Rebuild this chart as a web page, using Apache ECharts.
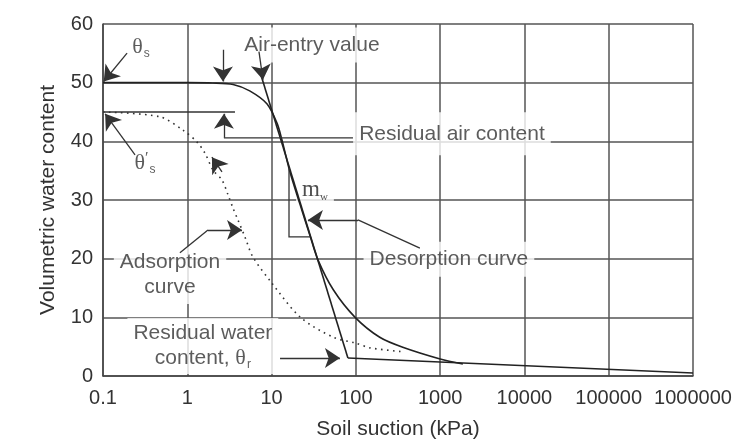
<!DOCTYPE html>
<html>
<head>
<meta charset="utf-8">
<script src="https://cdn.jsdelivr.net/npm/echarts@6/dist/echarts.min.js"></script>
<style>
  html, body { margin: 0; padding: 0; background: #fff; }
  #chart { width: 746px; height: 444px; }
</style>
</head>
<body>
<div id="chart"></div>
<script>
// axis ticks
var xTickLabels = ['0.1', '1', '10', '100', '1000', '10000', '100000', '1000000'];
var yTickLabels = ['0', '10', '20', '30', '40', '50', '60'];

// desorption curve (solid)
var desorptionX = [0.1, 1, 2, 3.5, 5.5, 8.8, 11.6, 13.3, 16.5, 21.7, 28.6, 35.5, 54, 98, 192, 360, 1000, 1860];
var desorptionY = [50, 50, 49.95, 49.7, 48.6, 46.4, 43.1, 40.2, 34.8, 29.3, 23.9, 19.8, 14.7, 10, 6.6, 4.9, 2.9, 2.05];

// adsorption curve (dotted)
var adsorptionX = [0.1, 0.47, 0.89, 1.3, 1.62, 2.02, 2.58, 3.04, 3.49, 3.99, 4.83, 6.0, 10, 22, 54, 100, 147, 380];
var adsorptionY = [45, 44.2, 41.9, 39.9, 38.0, 35.1, 33.4, 30.9, 28.6, 26.6, 23.7, 20.3, 15.9, 10, 6.6, 5.6, 4.8, 4.1];

// slope line m_w and residual line
var tangentX = [7.48, 80.5];
var tangentY = [51.3, 3.07];
var residualX = [80.5, 1000000];
var residualY = [3.07, 0.5];

// annotation texts [x, y, text, vertical padding]
var noteTexts = [
  [0.283, 56.0, '{t|θ}{s|s}', 3],
  [0.315, 36.2, '{t|θ}{p|′}{s|s}', 3],
  [30.1, 56.4, 'Air-entry value', 5],
  [1380, 41.3, 'Residual air content', 9],
  [32.7, 31.7, '{m|m}{w|w}', 2],
  [1271, 19.9, 'Desorption curve', 5],
  [0.624, 17.2, 'Adsorption\ncurve', 4],
  [1.53, 5.1, 'Residual water\ncontent, {t|θ}{r|r}', 3]
];

// arrow segments (arrowhead at the second point)
var noteArrows = [
  [[0.193, 55.05], [0.102, 50.2]],
  [[0.24, 37.7], [0.106, 44.7]],
  [[2.65, 55.6], [2.65, 50.2]],
  [[7.09, 55.3], [7.9, 50.5]],
  [[2.72, 40.6], [2.72, 44.7]],
  [[106, 26.6], [27.0, 26.6]],
  [[1.76, 24.9], [4.46, 24.9]],
  [[12.6, 3.07], [64.7, 3.07]],
  [[2.58, 34.8], [1.96, 37.3]]
];

// plain annotation lines (leaders and the m_w triangle)
var noteLines = [
  [[0.1, 45], [3.68, 45]],
  [[92.4, 40.6], [2.72, 40.6]],
  [[575, 21.8], [106, 26.6]],
  [[0.818, 21.0], [1.76, 24.9]],
  [[16.1, 35.45], [16.1, 23.7], [28.6, 23.7]]
];

function pairs(xs, ys) {
  return xs.map(function (x, i) { return [x, ys[i]]; });
}

var FONT = '"Liberation Sans", Arial, sans-serif';
var SERIF = '"Liberation Serif", "DejaVu Serif", serif';
var TXT = '#333';

var chart = echarts.init(document.getElementById('chart'));
chart.setOption({
  backgroundColor: '#fff',
  animation: false,
  textStyle: { fontFamily: FONT },
  grid: { left: 103, right: 53, top: 24, bottom: 68, containLabel: false, outerBoundsMode: 'none' },
  xAxis: {
    type: 'log',
    logBase: 10,
    min: 0.1,
    max: 1000000,
    interval: 1,
    name: 'Soil suction (kPa)',
    nameLocation: 'middle',
    nameGap: 43,
    nameTextStyle: { fontSize: 21, color: TXT, fontFamily: FONT },
    axisLine: { show: true, lineStyle: { color: '#444', width: 1.5 } },
    axisTick: { show: false },
    axisLabel: {
      fontSize: 20, color: TXT, margin: 12, fontFamily: FONT,
      formatter: function (v) { return xTickLabels[Math.round(Math.log10(v)) + 1]; }
    },
    splitLine: { show: true, lineStyle: { color: '#555', width: 1.5 } }
  },
  yAxis: {
    type: 'value',
    min: 0,
    max: 60,
    interval: 10,
    name: 'Volumetric water content',
    nameLocation: 'middle',
    nameGap: 44,
    nameTextStyle: { fontSize: 21, color: TXT, fontFamily: FONT },
    axisLine: { show: true, lineStyle: { color: '#444', width: 1.5 } },
    axisTick: { show: false },
    axisLabel: {
      fontSize: 20, color: TXT, margin: 10, fontFamily: FONT,
      formatter: function (v) { return yTickLabels[Math.round(v / 10)]; }
    },
    splitLine: { show: true, lineStyle: { color: '#555', width: 1.5 } }
  },
  series: [
    {
      name: 'Desorption',
      type: 'line',
      data: pairs(desorptionX, desorptionY),
      smooth: 0.3,
      showSymbol: false,
      lineStyle: { color: '#222', width: 1.6 },
      z: 4
    },
    {
      name: 'Adsorption',
      type: 'line',
      data: pairs(adsorptionX, adsorptionY),
      smooth: 0.3,
      showSymbol: false,
      lineStyle: { color: '#333', width: 1.6, type: [1.6, 4.4] },
      z: 4
    },
    {
      name: 'Slope',
      type: 'line',
      data: pairs(tangentX, tangentY),
      showSymbol: false,
      lineStyle: { color: '#222', width: 1.6 },
      z: 4
    },
    {
      name: 'Residual',
      type: 'line',
      data: pairs(residualX, residualY),
      showSymbol: false,
      lineStyle: { color: '#222', width: 1.6 },
      z: 4
    },
    {
      name: 'Notes',
      type: 'scatter',
      symbolSize: 0,
      silent: true,
      z: 3,
      data: noteTexts.map(function (d) {
        return { value: [d[0], d[1]], name: d[2], label: { padding: [d[3], 6] } };
      }),
      label: {
        show: true,
        position: 'inside',
        formatter: function (p) { return p.name; },
        color: TXT,
        fontSize: 21,
        lineHeight: 25,
        fontFamily: FONT,
        align: 'center',
        backgroundColor: '#fff',
        rich: {
          t: { fontSize: 22, fontFamily: SERIF, color: TXT },
          s: { fontSize: 12, fontFamily: FONT, color: TXT, verticalAlign: 'bottom', padding: [12, 0, 0, 1] },
          r: { fontSize: 12, fontFamily: FONT, color: TXT, verticalAlign: 'bottom', padding: [12, 0, 0, 1] },
          p: { fontSize: 16, fontFamily: SERIF, color: TXT, verticalAlign: 'top' },
          m: { fontSize: 23, fontFamily: SERIF, color: '#222' },
          w: { fontSize: 11, fontFamily: SERIF, color: '#222', verticalAlign: 'bottom', padding: [10, 0, 0, 0] }
        }
      }
    },
    {
      name: 'Arrows',
      type: 'lines',
      coordinateSystem: 'cartesian2d',
      silent: true,
      z: 5,
      symbol: ['none', 'arrow'],
      symbolSize: [7, 15],
      lineStyle: { color: '#333', width: 1.3, opacity: 1 },
      data: noteArrows.map(function (c) { return { coords: c }; })
    },
    {
      name: 'Guides',
      type: 'lines',
      coordinateSystem: 'cartesian2d',
      polyline: true,
      silent: true,
      z: 5,
      symbol: ['none', 'none'],
      lineStyle: { color: '#333', width: 1.3, opacity: 1 },
      data: noteLines.map(function (c) { return { coords: c }; })
    }
  ]
});
</script>
</body>
</html>
